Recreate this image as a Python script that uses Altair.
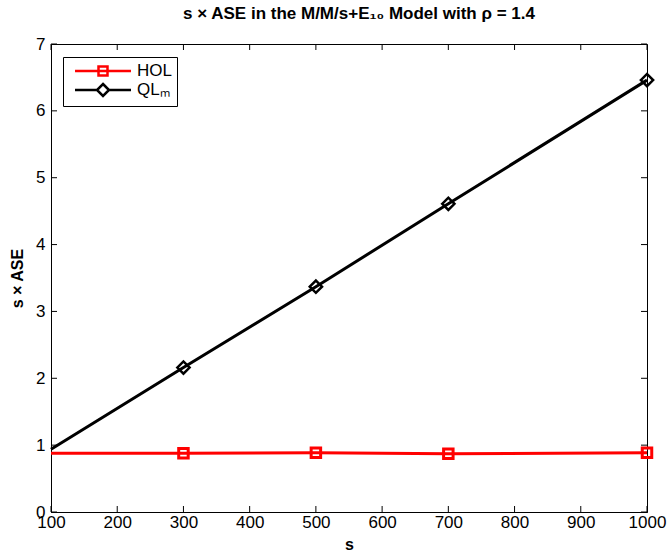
import altair as alt
import pandas as pd

# ---- data ----
s_vals = [100, 300, 500, 700, 1000]
hol_vals = [0.88, 0.88, 0.885, 0.87, 0.885]
qlm_vals = [0.94, 2.16, 3.37, 4.61, 6.46]
marker_s = [300, 500, 700, 1000]
x_ticks = [100, 200, 300, 400, 500, 600, 700, 800, 900, 1000]
y_ticks = [0, 1, 2, 3, 4, 5, 6, 7]
series_names = ["HOL", "QLₘ"]
series_colors = ["#ff0000", "#000000"]

W, H = 596, 468
FONT = "Liberation Sans"

rows = []
for name, vals in zip(series_names, [hol_vals, qlm_vals]):
    for s, v in zip(s_vals, vals):
        rows.append({"s": s, "v": v, "series": name, "marker": s in marker_s})
df = pd.DataFrame(rows)
xt = pd.DataFrame({"t": x_ticks})
yt = pd.DataFrame({"t": y_ticks})

xs = alt.Scale(domain=[100, 1000], nice=False, zero=False)
ys = alt.Scale(domain=[0, 7], nice=False)

x_axis = alt.Axis(values=x_ticks, ticks=False, grid=False, title="s", format="d",
                  labelFont=FONT, labelFontSize=17, labelColor="black",
                  labelPadding=2, titleFont=FONT, titleFontSize=16,
                  titleFontWeight="bold", titleColor="black", titlePadding=6,
                  domainColor="black", labelFlush=False)
y_axis = alt.Axis(values=y_ticks, ticks=False, grid=False, title="s × ASE", format="d",
                  labelFont=FONT, labelFontSize=17, labelColor="black",
                  labelPadding=6, titleFont=FONT, titleFontSize=16,
                  titleFontWeight="bold", titleColor="black", titlePadding=10,
                  domainColor="black", labelFlush=False)

base = alt.Chart(df)

lines = base.mark_line(strokeWidth=3).encode(
    x=alt.X("s:Q", scale=xs, axis=x_axis),
    y=alt.Y("v:Q", scale=ys, axis=y_axis),
    color=alt.Color("series:N", scale=alt.Scale(domain=series_names, range=series_colors), legend=None),
    detail="series:N",
)

sq = base.transform_filter((alt.datum.series == "HOL") & alt.datum.marker).mark_point(
    shape="square", filled=False, stroke="#ff0000", strokeWidth=3, size=90, opacity=1
).encode(x=alt.X("s:Q", scale=xs), y=alt.Y("v:Q", scale=ys))

dm = base.transform_filter((alt.datum.series == "QLₘ") & alt.datum.marker).mark_point(
    shape="diamond", filled=False, stroke="#000000", strokeWidth=2.5, size=150, opacity=1
).encode(x=alt.X("s:Q", scale=xs), y=alt.Y("v:Q", scale=ys))

# legend symbols: line with marker in middle (custom paths, unit = 7.5px)
hol_path = "M-3.73,0 H-0.6 M0.6,0 H3.73 M-0.6,-0.6 H0.6 V0.6 H-0.6 Z M-0.6,0 H0.6"
ql_path = "M-3.73,0 H-0.8 M0.8,0 H3.73 M0,-0.8 L0.8,0 L0,0.8 L-0.8,0 Z"

leg = alt.Legend(title=None, orient="none", legendX=12, legendY=13,
                 symbolSize=225, symbolStrokeWidth=2.5, symbolOpacity=1,
                 symbolOffset=26, labelOffset=25,
                 labelFont=FONT, labelFontSize=17, labelColor="black",
                 strokeColor="black", fillColor="white", padding=5,
                 rowPadding=-5, symbolFillColor="transparent")
legend_layer = base.mark_point(filled=False, opacity=0).encode(
    x=alt.X("s:Q", scale=xs),
    y=alt.Y("v:Q", scale=ys),
    shape=alt.Shape("series:N", scale=alt.Scale(domain=series_names, range=[hol_path, ql_path]), legend=leg, sort=series_names),
    stroke=alt.Stroke("series:N", scale=alt.Scale(domain=series_names, range=series_colors), legend=leg, sort=series_names),
)

TL = 6
xt_bot = alt.Chart(xt).mark_rule(color="black", strokeWidth=1).encode(
    x=alt.X("t:Q", scale=xs), y=alt.value(H), y2=alt.value(H - TL))
xt_top = alt.Chart(xt).mark_rule(color="black", strokeWidth=1).encode(
    x=alt.X("t:Q", scale=xs), y=alt.value(0), y2=alt.value(TL))
yt_l = alt.Chart(yt).mark_rule(color="black", strokeWidth=1).encode(
    y=alt.Y("t:Q", scale=ys), x=alt.value(0), x2=alt.value(TL))
yt_r = alt.Chart(yt).mark_rule(color="black", strokeWidth=1).encode(
    y=alt.Y("t:Q", scale=ys), x=alt.value(W), x2=alt.value(W - TL))

chart = alt.layer(xt_bot, xt_top, yt_l, yt_r, lines, sq, dm, legend_layer).resolve_scale(
    color="independent"
).properties(
    width=W, height=H,
    autosize=alt.AutoSizeParams(type="none"),
    padding={"left": 51, "top": 44, "right": 22, "bottom": 46},
    title=alt.TitleParams("s × ASE in the M/M/s+E₁₀ Model with ρ = 1.4", font=FONT,
                          fontSize=17, fontWeight="bold", color="black",
                          anchor="middle", offset=12, dx=10),
    background="white",
).configure_view(stroke="black", strokeWidth=1)

chart.save("out.html", embed_options={"renderer": "svg", "actions": False})
